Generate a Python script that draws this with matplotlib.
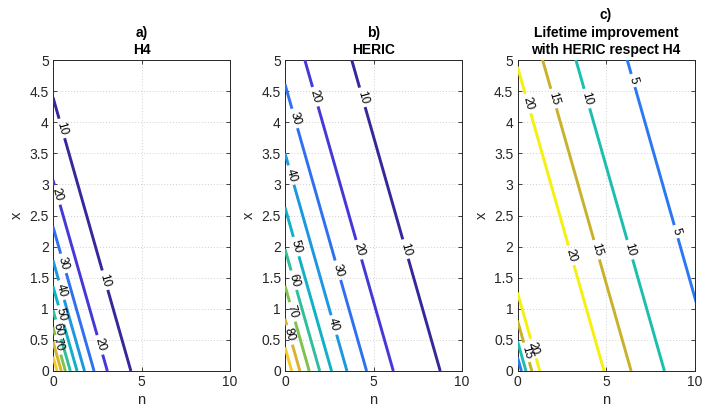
import numpy as np
import matplotlib
matplotlib.use('Agg')
import matplotlib.pyplot as plt

plt.rcParams['font.family'] = ['Liberation Sans', 'DejaVu Sans']

# contour levels and where each straight line (n + x = c) meets the axes
levels_h4 = [10, 20, 30, 40, 50, 60, 70, 80, 90]
icept_h4 = [4.40, 3.07, 2.32, 1.78, 1.36, 0.98, 0.70, 0.47, 0.23]

levels_heric = [10, 20, 30, 40, 50, 60, 70, 80, 90]
icept_heric = [8.77, 6.12, 4.61, 3.50, 2.63, 1.96, 1.37, 0.84, 0.38]

levels_gain = [5, 10, 15, 20]
icept_gain_far = [11.2, 8.30, 6.42, 4.89]
icept_gain_near = [0.22, 0.48, 0.81, 1.26]

# label positions: level and the x value where the label sits
lab_h4_level = [10, 10, 20, 20, 30, 40, 50, 60, 70]
lab_h4_x = [3.90, 1.46, 2.83, 0.42, 1.73, 1.30, 0.90, 0.67, 0.42]

lab_heric_level = [10, 10, 20, 20, 30, 30, 40, 40, 50, 60, 70, 80]
lab_heric_x = [4.40, 1.96, 4.41, 1.95, 4.06, 1.62, 3.15, 0.74, 2.00, 1.46, 0.95, 0.58]

lab_gain_far_level = [5, 5, 10, 10, 15, 15, 20, 20]
lab_gain_far_x = [4.67, 2.24, 4.38, 1.95, 4.38, 1.95, 4.30, 1.86]
lab_gain_near_level = [20, 15]
lab_gain_near_x = [0.36, 0.30]

col_ab = ['#35289a', '#4538d8', '#2f70f0', '#1c97e0', '#10b1c6',
          '#30bf9c', '#80c24c', '#d6b42c', '#f6cc24']
col_c = ['#2b78f3', '#1abfae', '#c8b22c', '#f5f00e']

fig = plt.figure(figsize=(7.21, 4.18), dpi=100, facecolor='white')
W, H = 721.0, 418.0
ax_left = [53, 285, 517.5]
axes = [fig.add_axes([l / W, 47 / H, 177 / W, 311 / H]) for l in ax_left]

titles = ['a)\nH4', 'b)\nHERIC', 'c)\nLifetime improvement\nwith HERIC respect H4']
dark = '#262626'
for ax, t in zip(axes, titles):
    ax.set_xlim(0, 10)
    ax.set_ylim(0, 5)
    ax.set_xticks([0, 5, 10])
    ax.set_yticks(np.arange(0, 5.01, 0.5))
    ax.set_yticklabels(['0', '0.5', '1', '1.5', '2', '2.5', '3', '3.5', '4', '4.5', '5'])
    ax.tick_params(direction='in', top=True, right=True, length=3, width=0.6,
                   colors=dark, labelsize=10, pad=3)
    for s in ax.spines.values():
        s.set_color(dark)
        s.set_linewidth(0.7)
    ax.grid(True, linestyle=(0, (1, 2)), color='#d0d0d0', linewidth=0.7)
    ax.set_axisbelow(True)
    ax.set_xlabel('n', fontsize=10.5, color=dark, labelpad=3)
    ax.set_ylabel('x', fontsize=10.5, color=dark, labelpad=4)
    ax.set_title(t, fontsize=10, fontweight='bold', linespacing=1.35, pad=4)

fs = 8.5


def draw_line(ax, c, color, labs):
    # straight contour n + x = c, broken where its labels sit
    tr = ax.transData
    p0 = tr.transform((0, c))
    p1 = tr.transform((c, 0))
    d = (p1 - p0) / np.hypot(*(p1 - p0))
    ang = np.degrees(np.arctan2(d[1], d[0]))
    segs = []
    start = (0, c)
    for (nl, xl), txt in labs:
        g = len(txt) * 0.56 * fs * 100 / 72 + 7
        P = tr.transform((nl, xl))
        a = tr.inverted().transform(P - d * g / 2)
        b = tr.inverted().transform(P + d * g / 2)
        segs.append((start, a))
        start = b
        ax.text(nl, xl, txt, fontsize=fs, rotation=ang, rotation_mode='anchor',
                ha='center', va='center', color='black', zorder=4)
    segs.append((start, (c, 0)))
    for s, e in segs:
        ax.plot([s[0], e[0]], [s[1], e[1]], color=color, linewidth=2.1,
                solid_capstyle='butt', zorder=3)


def panel(ax, levels, icepts, colors, lab_level, lab_x):
    for lev, c, col in zip(levels, icepts, colors):
        labs = [((c - xl, xl), str(lev)) for L, xl in zip(lab_level, lab_x) if L == lev]
        labs.sort(key=lambda p: -p[0][1])
        draw_line(ax, c, col, labs)


panel(axes[0], levels_h4, icept_h4, col_ab, lab_h4_level, lab_h4_x)
panel(axes[1], levels_heric, icept_heric, col_ab, lab_heric_level, lab_heric_x)
panel(axes[2], levels_gain, icept_gain_far, col_c, lab_gain_far_level, lab_gain_far_x)
panel(axes[2], levels_gain, icept_gain_near, col_c, lab_gain_near_level, lab_gain_near_x)

plt.savefig('out.png', dpi=100, facecolor='white')
